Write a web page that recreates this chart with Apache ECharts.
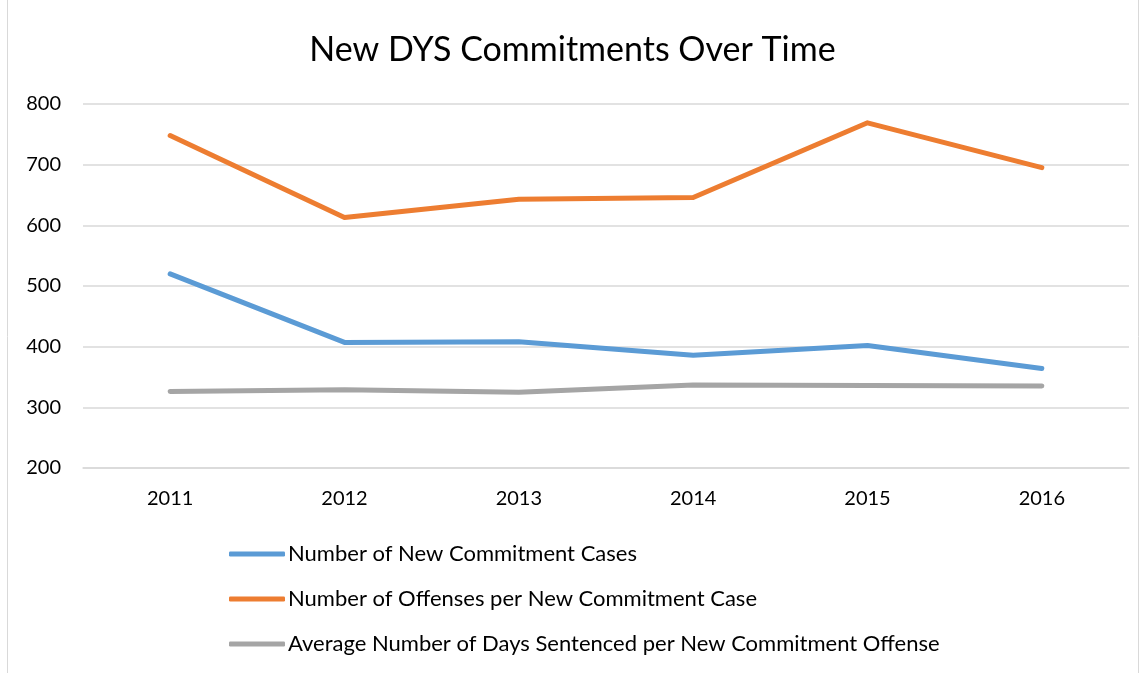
<!DOCTYPE html>
<html><head><meta charset="utf-8">
<script src="https://cdn.jsdelivr.net/npm/echarts@6/dist/echarts.min.js"></script>
<style>html,body{margin:0;padding:0;background:#fff}#c{width:1145px;height:673px}</style>
</head><body><div id="c"></div>
<script>
const years = ['2011','2012','2013','2014','2015','2016'];
const cases = [520, 407, 408, 386, 402, 364];
const offenses = [748, 613, 643, 646, 769, 695];
const days = [326, 329, 325, 337, 336, 335];
const seriesNames = ['Number of New Commitment Cases','Number of Offenses per New Commitment Case','Average Number of Days Sentenced per New Commitment Offense'];
const colors = ['#5B9BD5','#ED7D31','#A5A5A5'];
const FONT = 'Lato';
const chart = echarts.init(document.getElementById('c'));
const mk = (name, data, color) => ({
  name, type:'line', data, symbol:'none', smooth:false,
  lineStyle:{width:5, color, cap:'round', join:'round'}, itemStyle:{color}
});
chart.setOption({
  animation:false,
  textStyle:{fontFamily:FONT},
  graphic:[{type:'rect', shape:{x:7.5,y:-2,width:1131,height:676}, style:{fill:'none', stroke:'#D9D9D9', lineWidth:1}}],
  title:{text:'New DYS Commitments Over Time', left:'center', top:28, textStyle:{fontFamily:FONT, fontSize:34, fontWeight:'normal', color:'#000'}},
  grid:{left:83, right:16, top:104, bottom:205, containLabel:false},
  xAxis:{type:'category', data:years, boundaryGap:true,
    axisLine:{lineStyle:{color:'#D9D9D9', width:1.5}}, axisTick:{show:false},
    axisLabel:{color:'#000', fontSize:20, fontFamily:FONT, margin:21}},
  yAxis:{type:'value', min:200, max:800, interval:100,
    axisLine:{show:false}, axisTick:{show:false},
    splitLine:{lineStyle:{color:'#D9D9D9', width:1.5}},
    axisLabel:{color:'#000', fontSize:20, fontFamily:FONT, margin:22}},
  legend:{orient:'vertical', left:224, top:538, itemWidth:56, itemHeight:5, itemGap:23,
    icon:'roundRect',
    textStyle:{fontSize:22, lineHeight:22, fontFamily:FONT, color:'#000', padding:[0,0,0,-2]},
    data:seriesNames},
  series:[mk(seriesNames[0], cases, colors[0]), mk(seriesNames[1], offenses, colors[1]), mk(seriesNames[2], days, colors[2])]
});
</script></body></html>
